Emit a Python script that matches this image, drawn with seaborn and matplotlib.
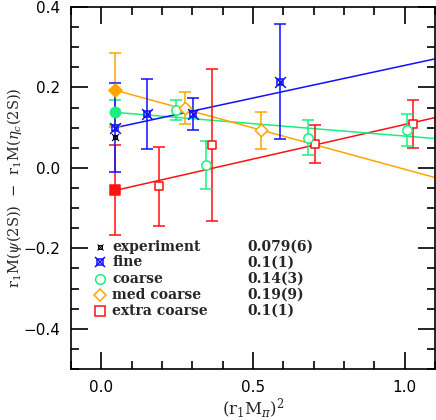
import numpy as np
import pandas as pd
import matplotlib
matplotlib.use("Agg")
import matplotlib.pyplot as plt
import seaborn as sns
from matplotlib.ticker import MultipleLocator

# ---- data ----
x_phys = 0.046

fine_x = [0.152, 0.302, 0.589]
fine_y = [0.134, 0.134, 0.214]
fine_e = [0.086, 0.040, 0.143]
fine_phys = [0.100, 0.110]          # value, error
fine_line = [0.100, 0.271]          # at x_phys, at x=1.1

coarse_x = [0.247, 0.344, 0.681, 1.007]
coarse_y = [0.144, 0.007, 0.075, 0.094]
coarse_e = [0.024, 0.059, 0.044, 0.040]
coarse_phys = [0.138, 0.032]
coarse_line = [0.138, 0.073]

med_x = [0.275, 0.527]
med_y = [0.148, 0.094]
med_e = [0.040, 0.046]
med_phys = [0.193, 0.092]
med_line = [0.193, -0.024]

xc_x = [0.189, 0.366, 0.704, 1.029]
xc_y = [-0.046, 0.057, 0.059, 0.110]
xc_e = [0.098, 0.190, 0.047, 0.060]
xc_phys = [-0.056, 0.112]
xc_line = [-0.056, 0.125]

exp_val = [0.077, 0.006]
line_x = [x_phys, 1.1]

legend_labels = ["experiment", "fine", "coarse", "med coarse", "extra coarse"]
legend_values = ["0.079(6)", "0.1(1)", "0.14(3)", "0.19(9)", "0.1(1)"]

BLUE = "#1010ff"
GREEN = "#18f080"
ORANGE = "#ffa500"
RED = "#ff1010"

sns.set_style("ticks")
plt.rcParams["font.family"] = ["DejaVu Sans"]
plt.rcParams["mathtext.fontset"] = "dejavuserif"

fig = plt.figure(figsize=(4.36, 4.20), dpi=100)
ax = fig.add_axes([71/436, 51/420, 364/436, 362/420])

lw = 1.1
cap = 4.5

def series(xs, ys, es, phys, line, color, marker, ms, filled_marker, ms_f):
    dfl = pd.DataFrame({"x": line_x, "y": line})
    sns.lineplot(data=dfl, x="x", y="y", color=color, lw=lw, ax=ax, zorder=2)
    ax.errorbar(xs, ys, yerr=es, fmt="none", ecolor=color, elinewidth=lw,
                capsize=cap, capthick=lw, zorder=3)
    ax.errorbar([x_phys], [phys[0]], yerr=[phys[1]], fmt="none", ecolor=color,
                elinewidth=lw, capsize=cap, capthick=lw, zorder=3)
    df = pd.DataFrame({"x": xs, "y": ys})
    sns.scatterplot(data=df, x="x", y="y", marker=marker, s=ms, facecolor="white",
                    edgecolor=color, linewidth=lw, ax=ax, zorder=4)
    dfp = pd.DataFrame({"x": [x_phys], "y": [phys[0]]})
    sns.scatterplot(data=dfp, x="x", y="y", marker=filled_marker, s=ms_f,
                    color=color, edgecolor=color, linewidth=lw, ax=ax, zorder=5)

series(xc_x, xc_y, xc_e, xc_phys, xc_line, RED, "s", 40, "s", 45)
series(coarse_x, coarse_y, coarse_e, coarse_phys, coarse_line, GREEN, "o", 45, "o", 55)
series(med_x, med_y, med_e, med_phys, med_line, ORANGE, "D", 40, "D", 45)

# fine series with burst-like marker
dfl = pd.DataFrame({"x": line_x, "y": fine_line})
sns.lineplot(data=dfl, x="x", y="y", color=BLUE, lw=lw, ax=ax, zorder=2)
ax.errorbar(fine_x + [x_phys], fine_y + [fine_phys[0]], yerr=fine_e + [fine_phys[1]],
            fmt="none", ecolor=BLUE, elinewidth=lw, capsize=cap, capthick=lw, zorder=3)
dff = pd.DataFrame({"x": fine_x + [x_phys], "y": fine_y + [fine_phys[0]]})
sns.scatterplot(data=dff, x="x", y="y", marker="s", s=18, facecolor="none",
                edgecolor=BLUE, linewidth=lw, ax=ax, zorder=5)
sns.scatterplot(data=dff, x="x", y="y", marker="x", s=60, color=BLUE,
                linewidth=lw, ax=ax, zorder=5)

# experiment
ax.errorbar([x_phys], [exp_val[0]], yerr=[exp_val[1]], fmt="none", ecolor="black",
            elinewidth=0.8, zorder=6)
dfe = pd.DataFrame({"x": [x_phys], "y": [exp_val[0]]})
sns.scatterplot(data=dfe, x="x", y="y", marker="s", s=10, facecolor="none",
                edgecolor="black", linewidth=0.8, ax=ax, zorder=6)
sns.scatterplot(data=dfe, x="x", y="y", marker="x", s=25, color="black",
                linewidth=0.8, ax=ax, zorder=6)

# axes
ax.set_xlim(-0.1, 1.1)
ax.set_ylim(-0.5, 0.4)
ax.xaxis.set_major_locator(MultipleLocator(0.5))
ax.xaxis.set_minor_locator(MultipleLocator(0.1))
ax.yaxis.set_major_locator(MultipleLocator(0.2))
ax.yaxis.set_minor_locator(MultipleLocator(0.05))
ax.xaxis.set_major_formatter(matplotlib.ticker.FormatStrFormatter("%.1f"))
ax.yaxis.set_major_formatter(matplotlib.ticker.FuncFormatter(
    lambda v, p: ("\u2212%.1f" % -v) if v < -1e-9 else "%.1f" % abs(v)))
ax.tick_params(which="both", direction="in", top=True, right=True, width=1.2,
               labelsize=11, colors="black")
ax.tick_params(which="major", length=12, pad=8)
ax.tick_params(which="minor", length=6)
for sp in ax.spines.values():
    sp.set_linewidth(1.2)
    sp.set_color("black")
    sp.set_visible(True)

serif = ["DejaVu Serif"]
ax.set_xlabel(r"(r$_1$M$_\pi$)$^2$", fontsize=12, family=serif, labelpad=1)
ax.set_ylabel(r"r$_1$M($\psi$(2S))  $-$  r$_1$M($\eta_c$(2S))", fontsize=10.5,
              family=serif)
ax.yaxis.set_label_coords(-0.13, 0.5)

# legend (manual)
ys_leg = [0.338, 0.295, 0.249, 0.204, 0.160]
for i, (lab, val) in enumerate(zip(legend_labels, legend_values)):
    yy = ys_leg[i]
    ax.text(0.113, yy, lab, transform=ax.transAxes, fontsize=10, family=serif,
            fontweight="bold", va="center", ha="left")
    ax.text(0.484, yy, val, transform=ax.transAxes, fontsize=10, family=serif,
            fontweight="bold", va="center", ha="left")
mk = ax.transAxes
ax.plot([0.08], [ys_leg[0]], transform=mk, marker="s", ms=3, mfc="none", mec="black", mew=0.7)
ax.plot([0.08], [ys_leg[0]], transform=mk, marker="x", ms=4, color="black", mew=0.7)
ax.plot([0.08], [ys_leg[1]], transform=mk, marker="s", ms=4, mfc="none", mec=BLUE, mew=lw)
ax.plot([0.08], [ys_leg[1]], transform=mk, marker="x", ms=7, color=BLUE, mew=lw)
ax.plot([0.08], [ys_leg[2]], transform=mk, marker="o", ms=7, mfc="none", mec=GREEN, mew=lw)
ax.plot([0.08], [ys_leg[3]], transform=mk, marker="D", ms=6.5, mfc="none", mec=ORANGE, mew=lw)
ax.plot([0.08], [ys_leg[4]], transform=mk, marker="s", ms=6.5, mfc="none", mec=RED, mew=lw)

fig.savefig("out.png", dpi=100)
